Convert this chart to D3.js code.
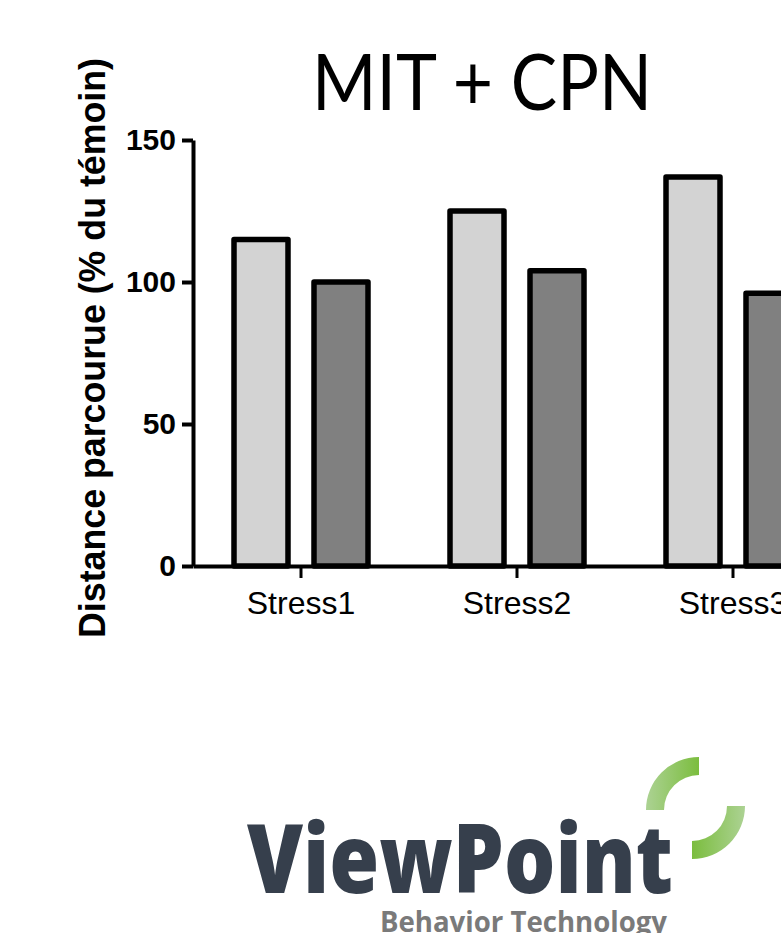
<!DOCTYPE html>
<html>
<head>
<meta charset="utf-8">
<script src="https://cdn.jsdelivr.net/npm/d3@7"></script>
<style>
  html, body { margin: 0; padding: 0; background: #fff; overflow: hidden; }
  svg { display: block; }
</style>
</head>
<body>
<svg id="chart" width="781" height="933"></svg>
<script>
// Data
const categories = ['Stress1', 'Stress2', 'Stress3'];
const series = ['clair', 'fonce'];
const valuesClair = [115, 125, 137];
const valuesFonce = [100, 104, 96];
const yTicks = [0, 50, 100, 150];

const seriesColor = { clair: '#d3d3d3', fonce: '#808080' };
const rows = categories.map((c, i) => ({ cat: c, clair: valuesClair[i], fonce: valuesFonce[i] }));

const svg = d3.select('#chart');

// Scales
const axisX = 193;
const axisY = 566;
const step = 216;
const x0 = d3.scaleBand().domain(categories).range([axisX, axisX + step * categories.length]).padding(0);
const x1 = d3.scaleBand().domain(series).range([28, 188]);
const y = d3.scaleLinear().domain([0, 150]).range([axisY, 140]);
const barW = 54;

// Title
svg.append('text')
    .attr('x', 482)
    .attr('y', 110)
    .attr('text-anchor', 'middle')
    .attr('font-family', 'Lato, "Open Sans", sans-serif')
    .attr('font-size', 77)
    .attr('textLength', 340)
    .attr('lengthAdjust', 'spacingAndGlyphs')
    .text('MIT + CPN');

// Y axis label
svg.append('text')
    .attr('transform', 'translate(105,348) rotate(-90)')
    .attr('text-anchor', 'middle')
    .attr('font-family', '"Liberation Sans", Arial, sans-serif')
    .attr('font-weight', 'bold')
    .attr('font-size', 37)
    .attr('textLength', 580)
    .attr('lengthAdjust', 'spacingAndGlyphs')
    .text('Distance parcourue (% du témoin)');

// Bars
const groups = svg.append('g').attr('class', 'bars')
    .selectAll('g')
    .data(rows)
    .enter()
    .append('g')
    .attr('transform', d => `translate(${x0(d.cat)},0)`);

groups.selectAll('rect')
    .data(d => series.map(s => ({ key: s, value: d[s] })))
    .enter()
    .append('rect')
    .attr('x', d => x1(d.key) + (x1.bandwidth() - barW) / 2)
    .attr('y', d => y(d.value))
    .attr('width', barW)
    .attr('height', d => y(0) - y(d.value))
    .attr('fill', d => seriesColor[d.key])
    .attr('stroke', '#000')
    .attr('stroke-width', 5.5)
    .attr('stroke-linejoin', 'round');

// Y axis
const yAxis = svg.append('g')
    .attr('transform', `translate(${axisX},0)`)
    .call(d3.axisLeft(y).tickValues(yTicks).tickSize(11).tickPadding(6).tickSizeOuter(0));
yAxis.select('.domain').attr('stroke-width', 4);
yAxis.selectAll('.tick line').attr('stroke-width', 4);
yAxis.selectAll('.tick text')
    .attr('font-family', '"Liberation Sans", Arial, sans-serif')
    .attr('font-weight', 'bold')
    .attr('font-size', 30)
    .attr('fill', '#000');

// X axis
const xAxis = svg.append('g')
    .attr('transform', `translate(0,${axisY})`)
    .call(d3.axisBottom(x0).tickSize(12).tickPadding(13).tickSizeOuter(0));
xAxis.select('.domain').attr('stroke-width', 4);
xAxis.selectAll('.tick line').attr('stroke-width', 3);
xAxis.selectAll('.tick text')
    .attr('font-family', '"Liberation Sans", Arial, sans-serif')
    .attr('font-size', 32)
    .attr('fill', '#000');

// Logo
const defs = svg.append('defs');
const grad1 = defs.append('linearGradient').attr('id', 'g1')
    .attr('gradientUnits', 'userSpaceOnUse')
    .attr('x1', -53).attr('x2', 0).attr('y1', 0).attr('y2', 0);
grad1.append('stop').attr('offset', 0).attr('stop-color', '#acd293');
grad1.append('stop').attr('offset', 1).attr('stop-color', '#7bbd3e');
const grad2 = defs.append('linearGradient').attr('id', 'g2')
    .attr('gradientUnits', 'userSpaceOnUse')
    .attr('x1', 0).attr('x2', 53).attr('y1', 0).attr('y2', 0);
grad2.append('stop').attr('offset', 0).attr('stop-color', '#7bbd3e');
grad2.append('stop').attr('offset', 1).attr('stop-color', '#acd293');

const arc = d3.arc().innerRadius(35).outerRadius(53);
svg.append('path')
    .attr('transform', 'translate(699,810)')
    .attr('d', arc({ startAngle: -Math.PI / 2, endAngle: 0 }))
    .attr('fill', 'url(#g1)');
svg.append('path')
    .attr('transform', 'translate(692,806)')
    .attr('d', arc({ startAngle: Math.PI / 2, endAngle: Math.PI }))
    .attr('fill', 'url(#g2)');

svg.append('text')
    .attr('x', 247)
    .attr('y', 893)
    .attr('font-family', '"Open Sans", sans-serif')
    .attr('font-weight', 800)
    .attr('font-size', 95)
    .attr('fill', '#363f4c')
    .attr('textLength', 426)
    .attr('lengthAdjust', 'spacingAndGlyphs')
    .text('ViewPoint');

svg.append('text')
    .attr('x', 380)
    .attr('y', 932)
    .attr('font-family', '"Open Sans", sans-serif')
    .attr('font-weight', 'bold')
    .attr('font-size', 28)
    .attr('fill', '#7a7a7a')
    .attr('textLength', 287)
    .attr('lengthAdjust', 'spacingAndGlyphs')
    .text('Behavior Technology');
</script>
</body>
</html>
